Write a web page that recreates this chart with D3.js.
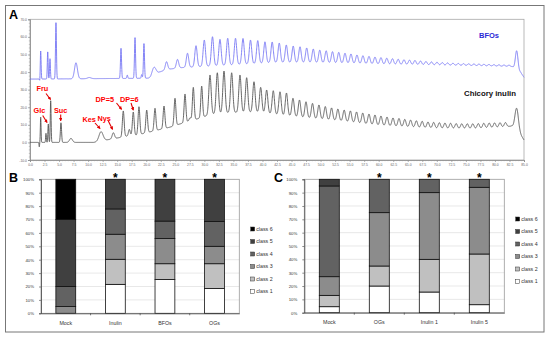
<!DOCTYPE html>
<html><head><meta charset="utf-8">
<script src="https://cdn.jsdelivr.net/npm/d3@7"></script>
<style>body{margin:0;background:#fff}svg{display:block}</style></head>
<body><svg id="c" width="550" height="339"></svg>
<script>
// ---------- Panel A data (retention time in min, signal) ----------
const xTickLabels = d3.range(0, 85.01, 2.5).map(v => v.toFixed(1));
const yTickLabels = ["-10.0","0.0","10.0","20.0","30.0","40.0","50.0","60.0","70.0"];

// BFOs trace
const bfoBaseT = [0, 20.8, 22.3, 23.5, 26, 30, 35, 42, 48, 55, 62, 70, 76, 83, 84.4, 85];
const bfoBaseV = [36, 36.5, 40, 41.5, 42.5, 43.3, 44.2, 45.5, 45.5, 45, 44.4, 44, 43.6, 43.1, 40, 37];
const bfoTimes = [1.70, 1.84, 3.05, 3.44, 4.47, 7.91, 10.2, 15.66, 16.74, 18.07, 19.22, 19.61, 21.33,
  23.49, 25.38, 27.10, 28.56, 29.99, 31.40, 32.69, 34.02, 35.36, 36.65, 37.94, 39.19, 40.43, 41.67,
  42.89, 44.10, 45.29, 46.46, 47.61, 48.74, 49.86, 50.96, 52.05, 53.13, 54.20, 55.23, 56.26, 57.29,
  58.33, 59.36, 60.39, 61.39, 62.37, 63.35, 64.35, 65.30, 66.24, 67.19, 68.13, 69.08, 70.03, 70.94,
  71.85, 72.78, 73.69, 74.59, 75.48, 76.39, 77.25, 78.11, 78.97, 79.83, 80.69, 81.56, 82.42, 83.74];
const bfoApex = [34.3, 52, 51.6, 47.6, 68.3, 45.3, 36.9, 53.5, 38.3, 59.7, 38.6, 56.3, 42.7,
  45.9, 47.2, 50.7, 55.0, 58.2, 60.1, 58.6, 59.2, 59.2, 59.1, 58.2, 57.9, 57.2, 57.1,
  56.5, 55.4, 54.8, 54.4, 53.7, 53.1, 52.5, 52.1, 51.6, 51.2, 50.7, 50.3, 49.7, 49.3,
  48.9, 48.5, 48.2, 47.9, 47.6, 47.3, 47.0, 46.8, 46.6, 46.3, 46.0, 45.8, 45.6, 45.4,
  45.2, 45.0, 44.9, 44.8, 44.7, 44.6, 44.5, 44.4, 44.3, 44.2, 44.1, 44.0, 43.9, 52.1];
const bfoWidth = [0.05, 0.07, 0.07, 0.07, 0.08, 0.25, 0.3, 0.09, 0.08, 0.09, 0.08, 0.09, 0.35]
  .concat(d3.range(55).map(() => 0.2)).concat([0.22]);

// Chicory inulin trace
const inuBaseT = [0, 11, 12.5, 15, 16.5, 18.4, 20, 22.4, 24, 25.8, 27.5, 29, 30.4, 31.8, 34.4, 39, 42.2,
  46.5, 53.7, 59.4, 65, 70.5, 76.6, 80.9, 82.9, 84.3, 85];
const inuBaseV = [0, 0, 1, 2.5, 3.5, 4.2, 5.5, 7.4, 8.6, 10.5, 12.3, 13.6, 15.2, 16.3, 17, 17.3, 16,
  14.4, 12.2, 9.9, 8.8, 8, 7.9, 8.6, 9.3, 5, 1.4];
const inuTimes = [1.60, 1.84, 2.75, 3.15, 3.56, 5.33, 7.05, 12.22, 14.34,
  16.05, 17.09, 17.77, 18.75, 20.08, 21.51, 23.06, 24.95, 26.67, 27.53, 28.10, 29.54, 30.97, 32.23,
  33.38, 34.70, 36.13, 37.28, 38.54, 39.69, 40.72, 41.86, 43.02, 44.13, 45.25, 46.37, 47.49, 48.61,
  49.72, 50.81, 51.89, 52.98, 54.06, 55.13, 56.19, 57.26, 58.33, 59.36, 60.39, 61.43, 62.46, 63.49,
  64.49, 65.49, 66.48, 67.48, 68.48, 69.46, 70.44, 71.40, 72.37, 73.33, 74.29, 75.24, 76.19, 77.13,
  78.08, 79.01, 79.94, 80.87, 81.80, 83.74];
const inuApex = [-2.5, 14.3, 5.2, 10.5, 23.7, 11.2, 2.3, 6.1, 5.5,
  17.9, 7.4, 17.3, 20.3, 18.4, 19.4, 20.7, 25.1, 27.5, 14, 31.3, 32, 38.3, 39.6,
  40.6, 39.6, 38.3, 36.8, 34.5, 31.3, 29.8, 29.4, 28.8, 28.1, 25.1, 24.1, 23.1, 22.2,
  21.3, 20.4, 19.6, 19.0, 18.4, 17.9, 17.3, 16.7, 16.1, 15.6, 15.0, 14.4, 13.9, 13.6,
  13.1, 12.7, 12.3, 12.0, 11.6, 11.4, 11.2, 11.0, 10.9, 10.7, 10.6, 10.6, 10.6, 10.7,
  10.9, 11.0, 11.1, 11.2, 11.3, 19.4];
const inuWidth = [0.05, 0.06, 0.06, 0.07, 0.07, 0.1, 0.25, 0.35, 0.2]
  .concat(d3.range(12).map(() => 0.15)).concat(d3.range(49).map(() => 0.2)).concat([0.3]);

const peakNames = ["Glc", "Fru", "Suc", "Kes", "Nys", "DP=5", "DP=6"];

// ---------- Panel B / C data (% of cells per class) ----------
const classes = ["class 1", "class 2", "class 3", "class 4", "class 5", "class 6"];
const catsB = ["Mock", "Inulin", "BFOs", "OGs"];
const b1 = [0, 21.6, 25.2, 18.5];
const b2 = [0, 18.7, 11.8, 18.5];
const b3 = [5, 18.7, 18.8, 13];
const b4 = [15, 18.9, 13, 18.5];
const b5 = [50, 22.1, 31.2, 31.5];
const b6 = [30, 0, 0, 0];
const starB = ["", "*", "*", "*"];

const catsC = ["Mock", "OGs", "Inulin 1", "Inulin 5"];
const c1 = [4.5, 20, 15.5, 6];
const c2 = [8.5, 15, 24.5, 38];
const c3 = [14, 40, 50, 50];
const c4 = [68, 25, 10, 6];
const c5 = [5, 0, 0, 0];
const c6 = [0, 0, 0, 0];
const starC = ["", "*", "*", "*"];

const pctTicks = d3.range(0, 101, 10);
const classColors = ["#ffffff", "#c0c0c0", "#8c8c8c", "#626262", "#404040", "#000000"];

// ---------- drawing ----------
const svg = d3.select("#c");
const FONT = "'Liberation Sans', Arial, sans-serif";

svg.append("rect").attr("x", 5.5).attr("y", 5.5).attr("width", 538.5).attr("height", 326.5)
  .attr("fill", "none").attr("stroke", "#777").attr("stroke-width", 1);

// ---- Panel A ----
const xA = d3.scaleLinear().domain([0, 85]).range([30, 524]);
const yA = d3.scaleLinear().domain([-10, 70]).range([160, 19.3]);
const gA = svg.append("g");
gA.append("rect").attr("x", 30).attr("y", 19.3).attr("width", 494).attr("height", 140.7)
  .attr("fill", "none").attr("stroke", "#a8a8a8").attr("stroke-width", 0.8);

const xAxisA = d3.axisBottom(xA).tickValues(xTickLabels.map(Number)).tickSize(2)
  .tickFormat((d, i) => xTickLabels[i]);
const gx = gA.append("g").attr("transform", "translate(0,160)").call(xAxisA);
gx.selectAll("text").attr("font-size", 3.4).attr("fill", "#666").attr("font-family", FONT).attr("dy", "0.3em");
gx.select(".domain").attr("stroke", "#888").attr("stroke-width", 0.8);
gx.selectAll(".tick line").attr("stroke", "#888").attr("stroke-width", 0.6);
gA.append("g").attr("transform", "translate(0,160)")
  .call(d3.axisBottom(xA).tickValues(d3.range(0, 85.01, 0.5)).tickSize(1.2).tickFormat(""))
  .call(g => { g.select(".domain").remove(); g.selectAll("line").attr("stroke", "#999").attr("stroke-width", 0.5); });

const yAxisA = d3.axisLeft(yA).tickValues(yTickLabels.map(Number)).tickSize(2)
  .tickFormat((d, i) => yTickLabels[i]);
const gy = gA.append("g").attr("transform", "translate(30,0)").call(yAxisA);
gy.selectAll("text").attr("font-size", 3.4).attr("fill", "#666").attr("font-family", FONT).attr("x", -3);
gy.select(".domain").attr("stroke", "#888").attr("stroke-width", 0.8);
gy.selectAll(".tick line").attr("stroke", "#888").attr("stroke-width", 0.6);
gA.append("g").attr("transform", "translate(30,0)")
  .call(d3.axisLeft(yA).tickValues(d3.range(-10, 70.01, 2)).tickSize(1.2).tickFormat(""))
  .call(g => { g.select(".domain").remove(); g.selectAll("line").attr("stroke", "#999").attr("stroke-width", 0.5); });

function makeTrace(baseT, baseV, times, apex, width) {
  const base = d3.scaleLinear().domain(baseT).range(baseV).clamp(true);
  const amps = times.map((t, i) => apex[i] - base(t));
  const ts = d3.range(0, 85.0001, 0.02);
  return ts.map(t => {
    let v = base(t);
    for (let i = 0; i < times.length; i++) {
      const z = (t - times[i]) / width[i];
      if (Math.abs(z) < 6) v += amps[i] * Math.exp(-0.5 * z * z);
    }
    return [t, v];
  });
}
const line = d3.line().x(d => xA(d[0])).y(d => yA(d[1]));
const bfoData = makeTrace(bfoBaseT, bfoBaseV, bfoTimes, bfoApex, bfoWidth);
const inuData = makeTrace(inuBaseT, inuBaseV, inuTimes, inuApex, inuWidth);
gA.append("path").datum(bfoData).attr("d", line).attr("fill", "none")
  .attr("stroke", "#7676f4").attr("stroke-width", 0.9);
gA.append("path").datum(inuData).attr("d", line).attr("fill", "none")
  .attr("stroke", "#555555").attr("stroke-width", 0.9);

gA.append("text").attr("x", 479).attr("y", 38).text("BFOs")
  .attr("font-family", FONT).attr("font-weight", "bold").attr("font-size", 7.5).attr("fill", "#2a2ad6");
gA.append("text").attr("x", 464).attr("y", 96).text("Chicory inulin")
  .attr("font-family", FONT).attr("font-weight", "bold").attr("font-size", 7.8).attr("fill", "#111");

const labelLayout = [
  {tx: 33.5, ty: 113, ax: 42.7, ay: 115.5, hx: 47, hy: 122.5},
  {tx: 36.5, ty: 91, ax: 46, ay: 93.5, hx: 50.5, hy: 99.5},
  {tx: 54, ty: 113, ax: 60.7, ay: 114.5, hx: 60.7, hy: 120.7},
  {tx: 82.5, ty: 121.5, ax: 95, ay: 123, hx: 100, hy: 128.5},
  {tx: 97.5, ty: 120.5, ax: 108.3, ay: 121, hx: 112.5, hy: 129.3},
  {tx: 95.5, ty: 101.5, ax: 116.5, ay: 103, hx: 121.5, hy: 109.3},
  {tx: 120, ty: 101.5, ax: 131, ay: 103, hx: 133.3, hy: 110}
];
const defs = svg.append("defs");
defs.append("marker").attr("id", "ah").attr("viewBox", "0 0 10 10").attr("refX", 8).attr("refY", 5)
  .attr("markerWidth", 3.2).attr("markerHeight", 3.2).attr("orient", "auto")
  .append("path").attr("d", "M0,0 L10,5 L0,10 z").attr("fill", "#e00000");
peakNames.forEach((n, i) => {
  const L = labelLayout[i];
  gA.append("text").attr("x", L.tx).attr("y", L.ty).text(n)
    .attr("font-family", FONT).attr("font-weight", "bold").attr("font-size", 7.3).attr("fill", "#ff0000");
  gA.append("line").attr("x1", L.ax).attr("y1", L.ay).attr("x2", L.hx).attr("y2", L.hy)
    .attr("stroke", "#e00000").attr("stroke-width", 1.1).attr("marker-end", "url(#ah)");
});

svg.append("text").attr("x", 9).attr("y", 19).text("A").attr("font-family", FONT)
  .attr("font-weight", "bold").attr("font-size", 12.5);

// ---- Bar panels ----
function barPanel(cfg) {
  const g = svg.append("g");
  const x = d3.scaleBand().domain(cfg.cats).range([cfg.x0, cfg.x1]);
  const y = d3.scaleLinear().domain([0, 100]).range([cfg.y0, cfg.y1]);
  g.selectAll(".grid").data(pctTicks.slice(1, -1)).join("line")
    .attr("x1", cfg.x0).attr("x2", cfg.x1).attr("y1", d => y(d)).attr("y2", d => y(d))
    .attr("stroke", "#d8d8d8").attr("stroke-width", 0.6);
  g.append("rect").attr("x", cfg.x0).attr("y", cfg.y1).attr("width", cfg.x1 - cfg.x0).attr("height", cfg.y0 - cfg.y1)
    .attr("fill", "none").attr("stroke", "#9a9a9a").attr("stroke-width", 0.8);
  const rows = cfg.cats.map((c, i) => {
    const r = {cat: c};
    classes.forEach((k, j) => r[k] = cfg.vals[j][i]);
    return r;
  });
  const stack = d3.stack().keys(classes)(rows);
  const bw = x.bandwidth() * 0.4;
  stack.forEach((s, j) => {
    g.selectAll(null).data(s.filter(d => d[1] - d[0] > 0)).join("rect")
      .attr("x", d => x(d.data.cat) + (x.bandwidth() - bw) / 2).attr("width", bw)
      .attr("y", d => y(d[1])).attr("height", d => y(d[0]) - y(d[1]))
      .attr("fill", classColors[j]).attr("stroke", "#111").attr("stroke-width", 0.8);
  });
  const ya = g.append("g").attr("transform", `translate(${cfg.x0},0)`)
    .call(d3.axisLeft(y).tickValues(pctTicks).tickSize(2).tickFormat(d => d + "%"));
  ya.select(".domain").attr("stroke", "#444").attr("stroke-width", 0.8);
  ya.selectAll("line").attr("stroke", "#444").attr("stroke-width", 0.6);
  ya.selectAll("text").attr("font-size", 4.3).attr("font-family", FONT).attr("fill", "#333").attr("x", -7);
  const xa = g.append("g").attr("transform", `translate(0,${cfg.y0})`)
    .call(d3.axisBottom(x).tickSize(0));
  xa.select(".domain").attr("stroke", "#444").attr("stroke-width", 0.8);
  xa.selectAll("text").attr("font-size", 5.3).attr("font-family", FONT).attr("fill", "#333").attr("dy", "1.55em");
  g.selectAll(".bt").data(cfg.cats.slice(1)).join("line")
    .attr("x1", d => x(d)).attr("x2", d => x(d)).attr("y1", cfg.y0).attr("y2", cfg.y0 + 2)
    .attr("stroke", "#444").attr("stroke-width", 0.7);
  g.selectAll(".st").data(cfg.cats).join("text")
    .attr("x", d => x(d) + x.bandwidth() / 2).attr("y", cfg.y1 + 2.5).attr("text-anchor", "middle")
    .text((d, i) => cfg.stars[i]).attr("font-family", FONT).attr("font-weight", "bold").attr("font-size", 12);
  classes.slice().reverse().forEach((k, i) => {
    const j = classes.length - 1 - i;
    const ly = cfg.ly + i * 12.5;
    g.append("rect").attr("x", cfg.lx).attr("y", ly - 2).attr("width", 4).attr("height", 4)
      .attr("fill", classColors[j]).attr("stroke", "#333").attr("stroke-width", 0.5);
    g.append("text").attr("x", cfg.lx + 5.5).attr("y", ly + 1.8).text(k)
      .attr("font-family", FONT).attr("font-size", 5.3).attr("fill", "#333");
  });
  svg.append("text").attr("x", cfg.lab[0]).attr("y", cfg.lab[1]).text(cfg.label).attr("font-family", FONT)
    .attr("font-weight", "bold").attr("font-size", 12.5);
}
barPanel({cats: catsB, vals: [b1, b2, b3, b4, b5, b6], stars: starB, x0: 41, x1: 239.3, y0: 313.3, y1: 179.3,
  lx: 250.7, ly: 229, label: "B", lab: [9, 182]});
barPanel({cats: catsC, vals: [c1, c2, c3, c4, c5, c6], stars: starC, x0: 304.3, x1: 504.3, y0: 312.7, y1: 179.3,
  lx: 515.7, ly: 219, label: "C", lab: [274, 182]});
</script></body></html>
